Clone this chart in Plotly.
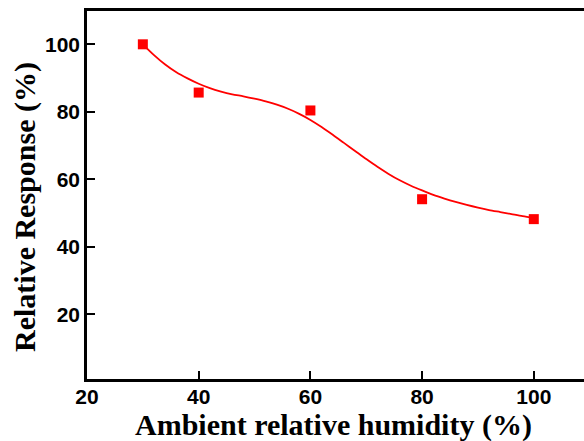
import plotly.graph_objects as go

# Measured data points
humidity = [30, 40, 60, 80, 100]
response = [100.0, 85.7, 80.4, 54.1, 48.2]

# Fitted curve
fit_x = [30, 32, 34, 36, 38, 40, 42, 44, 46, 48, 50, 52, 54, 56, 58, 60, 62, 64, 66, 68,
         70, 72, 74, 76, 78, 80, 82, 84, 86, 88, 90, 92, 94, 96, 98, 100]
fit_y = [100.0, 96.8, 94.0, 91.7, 89.9, 88.3, 87.0, 86.0, 85.2, 84.6, 83.9, 83.1, 82.1,
         80.9, 79.4, 77.6, 75.5, 73.2, 70.8, 68.4, 66.0, 63.7, 61.6, 59.7, 58.1, 56.7,
         55.4, 54.3, 53.3, 52.4, 51.6, 50.9, 50.3, 49.7, 49.1, 48.6]

x_ticks = [20, 40, 60, 80, 100]
y_ticks = [20, 40, 60, 80, 100]

x_title = "Ambient relative humidity (%)"
y_title = "Relative Response (%)"

RED = "#FF0000"
tick_font = dict(family="Liberation Sans, Arial, sans-serif", size=21, color="black", weight="bold")
title_font = dict(family="Liberation Serif, Times New Roman, serif", size=30, color="black", weight="bold")

fig = go.Figure()
fig.add_trace(go.Scatter(x=fit_x, y=fit_y, mode="lines",
                         line=dict(color=RED, width=1.8, shape="spline", smoothing=0.8),
                         showlegend=False, hoverinfo="skip"))
fig.add_trace(go.Scatter(x=humidity, y=response, mode="markers",
                         marker=dict(symbol="square", size=10, color=RED, line=dict(width=0)),
                         showlegend=False))

fig.update_layout(
    width=584, height=441,
    margin=dict(l=87, r=0, t=11, b=62),
    plot_bgcolor="white", paper_bgcolor="white",
    xaxis=dict(range=[20, 108.99], tickvals=x_ticks, ticks="inside", ticklen=8, tickwidth=2,
               tickcolor="black", showline=True, linewidth=2.5, linecolor="black", mirror=True,
               showgrid=False, zeroline=False, tickfont=tick_font, ticklabelstandoff=-3),
    yaxis=dict(range=[0.83, 109.87], tickvals=y_ticks, ticks="inside", ticklen=8, tickwidth=2,
               tickcolor="black", showline=True, linewidth=2.5, linecolor="black", mirror=False,
               showgrid=False, zeroline=False, tickfont=tick_font),
    annotations=[
        dict(text=x_title, xref="paper", yref="paper", x=(333 - 87) / 497, y=(379 - 425) / 368,
             xanchor="center", yanchor="middle", showarrow=False, font=title_font),
        dict(text=y_title, xref="paper", yref="paper", x=(25 - 87) / 497, y=(379 - 207) / 368,
             xanchor="center", yanchor="middle", showarrow=False, font=title_font, textangle=-90),
    ],
)

fig.write_html("out.html")
